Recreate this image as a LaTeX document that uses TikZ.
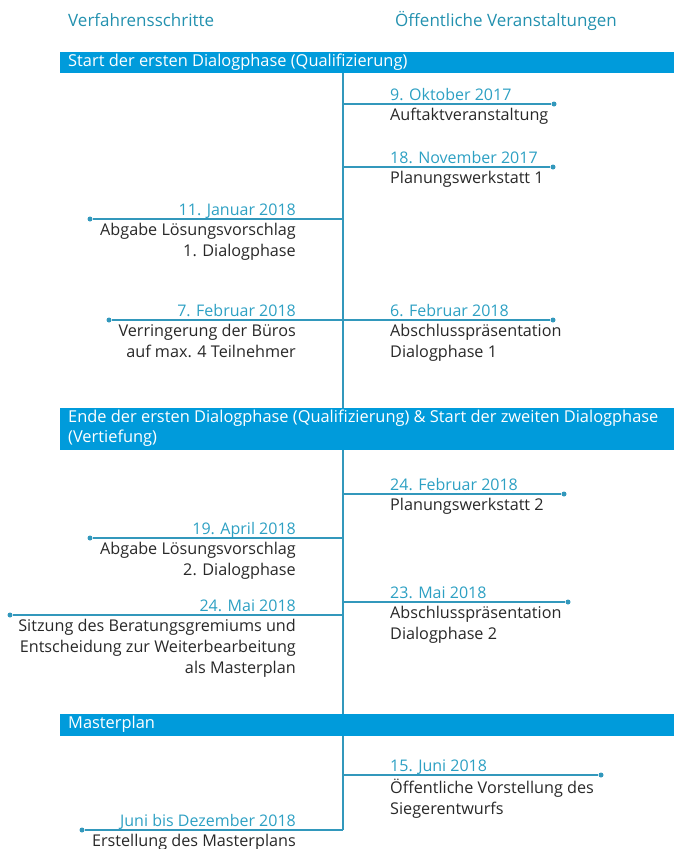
\documentclass[tikz,border=0pt]{standalone}
\usepackage{fontspec}
\setmainfont{Open Sans}
\definecolor{barblue}{RGB}{0,155,219}
\definecolor{headcol}{RGB}{35,145,175}
\definecolor{datecol}{RGB}{45,160,195}
\definecolor{linecol}{RGB}{50,152,188}
\definecolor{txt}{RGB}{40,40,40}
\begin{document}
\begin{tikzpicture}[x=1pt,y=-1pt,
  head/.style={text=headcol,font=\fontsize{17}{20}\selectfont,inner sep=0,anchor=base west},
  bartext/.style={text=white,font=\fontsize{16.4}{20}\selectfont,inner sep=0,align=left,anchor=north west},
  datel/.style={text=datecol,font=\fontsize{16}{18}\selectfont,inner sep=0},
  desc/.style={text=txt,font=\fontsize{16.2}{21}\selectfont,inner sep=0},
  tl/.style={draw=linecol,line width=1.5pt},
  dot/.style={circle,fill=linecol,inner sep=0,minimum size=5pt}]
\useasboundingbox (0,0) rectangle (674,849);
% headers
\node[head] (h1) at (68,26) {Verfahrensschritte};
\node[head] (h2) at (395,26) {Öffentliche Veranstaltungen};
% bars
\fill[barblue] (60,52) rectangle (674,73);
\node[bartext] (b1) at (68,54) {Start der ersten Dialogphase (Qualifizierung)};
\fill[barblue] (60,408) rectangle (674,450);
\node[bartext] (b2) at (68,410) {Ende der ersten Dialogphase (Qualifizierung) \& Start der zweiten Dialogphase\\(Vertiefung)};
\fill[barblue] (60,714) rectangle (674,736);
\node[bartext] (b3) at (68,716) {Masterplan};
% spine coordinates
\coordinate (s0) at (343,73);
\coordinate (s1) at (343,408);
\coordinate (s2) at (343,450);
\coordinate (s3) at (343,714);
\coordinate (s4) at (343,736);
\coordinate (e1) at (343,104);
\coordinate (e2) at (343,167);
\coordinate (e3) at (343,219);
\coordinate (e4) at (343,320);
\coordinate (e5) at (343,494);
\coordinate (e6) at (343,538);
\coordinate (e7) at (343,602);
\coordinate (e8) at (343,615);
\coordinate (e9) at (343,775);
\coordinate (e10) at (343,830);
\draw[tl] (s0) -- (s1);
\draw[tl] (s2) -- (s3);
\draw[tl] (s4) -- (e10);
% dots
\node[dot] (d1) at (554,104) {};
\node[dot] (d2) at (553,167) {};
\node[dot] (d3) at (90,219) {};
\node[dot] (d4l) at (109,320) {};
\node[dot] (d4r) at (553,320) {};
\node[dot] (d5) at (564,494) {};
\node[dot] (d6) at (90,538) {};
\node[dot] (d7) at (568,602) {};
\node[dot] (d8) at (10,615) {};
\node[dot] (d9) at (601,775) {};
\node[dot] (d10) at (82,830) {};
\draw[tl] (e1) -- (d1);
\draw[tl] (e2) -- (d2);
\draw[tl] (e3) -- (d3);
\draw[tl] (e4) -- (d4l);
\draw[tl] (e4) -- (d4r);
\draw[tl] (e5) -- (d5);
\draw[tl] (e6) -- (d6);
\draw[tl] (e7) -- (d7);
\draw[tl] (e8) -- (d8);
\draw[tl] (e9) -- (d9);
\draw[tl] (e10) -- (d10);
% right events
\node[datel,anchor=base west] (t1) at (390,100) {9. Oktober 2017};
\node[desc,anchor=north west,align=left] (x1) at (390,108) {Auftaktveranstaltung};
\node[datel,anchor=base west] (t2) at (390,163) {18. November 2017};
\node[desc,anchor=north west,align=left] (x2) at (390,171) {Planungswerkstatt 1};
\node[datel,anchor=base west] (t4r) at (390,316) {6. Februar 2018};
\node[desc,anchor=north west,align=left] (x4r) at (390,324) {Abschlusspräsentation\\Dialogphase 1};
\node[datel,anchor=base west] (t5) at (390,490) {24. Februar 2018};
\node[desc,anchor=north west,align=left] (x5) at (390,498) {Planungswerkstatt 2};
\node[datel,anchor=base west] (t7) at (390,598) {23. Mai 2018};
\node[desc,anchor=north west,align=left] (x7) at (390,606) {Abschlusspräsentation\\Dialogphase 2};
\node[datel,anchor=base west] (t9) at (390,771) {15. Juni 2018};
\node[desc,anchor=north west,align=left] (x9) at (390,779) {Öffentliche Vorstellung des\\Siegerentwurfs};
% left events
\node[datel,anchor=base east] (t3) at (296,215) {11. Januar 2018};
\node[desc,anchor=north east,align=right] (x3) at (296,223) {Abgabe Lösungsvorschlag\\1. Dialogphase};
\node[datel,anchor=base east] (t4l) at (296,316) {7. Februar 2018};
\node[desc,anchor=north east,align=right] (x4l) at (296,324) {Verringerung der Büros\\auf max. 4 Teilnehmer};
\node[datel,anchor=base east] (t6) at (296,534) {19. April 2018};
\node[desc,anchor=north east,align=right] (x6) at (296,542) {Abgabe Lösungsvorschlag\\2. Dialogphase};
\node[datel,anchor=base east] (t8) at (296,611) {24. Mai 2018};
\node[desc,anchor=north east,align=right] (x8) at (296,619) {Sitzung des Beratungsgremiums und\\Entscheidung zur Weiterbearbeitung\\als Masterplan};
\node[datel,anchor=base east] (t10) at (296,826) {Juni bis Dezember 2018};
\node[desc,anchor=north east,align=right] (x10) at (296,834) {Erstellung des Masterplans};
\end{tikzpicture}
\end{document}
